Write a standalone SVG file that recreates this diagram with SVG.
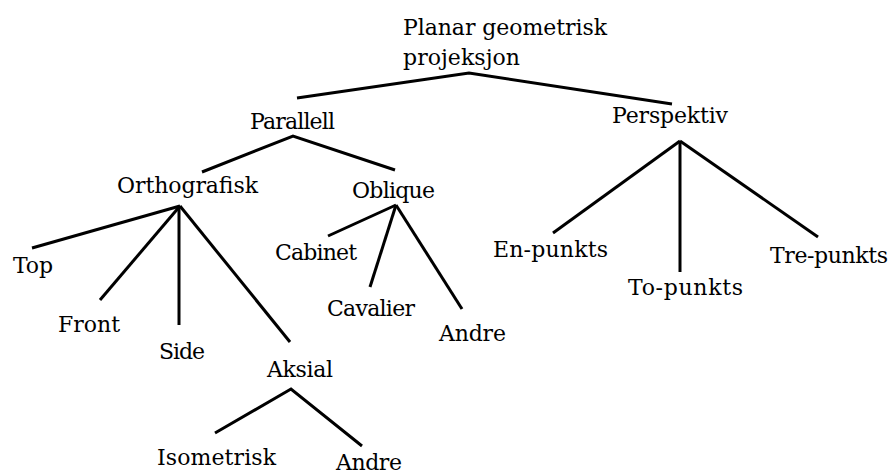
<svg xmlns="http://www.w3.org/2000/svg" width="895" height="474" viewBox="0 0 895 474">
  <style>
    .lbl { font-family: "DejaVu Serif", "Liberation Serif", serif; font-size: 22px; fill: #000; }
    .edge { stroke: #000; stroke-width: 3; stroke-linecap: butt; stroke-linejoin: miter; fill: none; }
  </style>
  <rect width="895" height="474" fill="#fff"/>

  <!-- tree branches -->
  <g id="connectors">
    <polyline class="edge" points="297,98 469,73 672,104"/>
    <polyline class="edge" points="202,172 293,136 395,170"/>
    <line class="edge" x1="180" y1="206" x2="32" y2="248"/>
    <line class="edge" x1="180" y1="206" x2="100" y2="300"/>
    <line class="edge" x1="179" y1="206" x2="179" y2="325"/>
    <line class="edge" x1="180" y1="206" x2="290" y2="342"/>
    <line class="edge" x1="396" y1="205" x2="328" y2="236"/>
    <line class="edge" x1="396" y1="205" x2="370" y2="287"/>
    <line class="edge" x1="396" y1="205" x2="462" y2="309"/>
    <polyline class="edge" points="215,433 291,389 362,446"/>
    <line class="edge" x1="680" y1="141" x2="553" y2="233"/>
    <line class="edge" x1="680" y1="141" x2="680" y2="272"/>
    <line class="edge" x1="680" y1="141" x2="818" y2="237"/>
  </g>

  <g id="root">
    <text class="lbl" x="403" y="35" textLength="204" lengthAdjust="spacing">Planar geometrisk</text>
    <text class="lbl" x="403" y="65" textLength="117" lengthAdjust="spacing">projeksjon</text>
  </g>
  <g id="parallell"><text class="lbl" x="250" y="129" textLength="85" lengthAdjust="spacing">Parallell</text></g>
  <g id="perspektiv"><text class="lbl" x="612" y="123" textLength="116" lengthAdjust="spacing">Perspektiv</text></g>
  <g id="orthografisk"><text class="lbl" x="117" y="193" textLength="141" lengthAdjust="spacing">Orthografisk</text></g>
  <g id="oblique"><text class="lbl" x="352" y="198" textLength="83" lengthAdjust="spacing">Oblique</text></g>
  <g id="top"><text class="lbl" x="13" y="273" textLength="40" lengthAdjust="spacing">Top</text></g>
  <g id="front"><text class="lbl" x="58" y="332" textLength="62" lengthAdjust="spacing">Front</text></g>
  <g id="side"><text class="lbl" x="159" y="359" textLength="46" lengthAdjust="spacing">Side</text></g>
  <g id="aksial"><text class="lbl" x="267" y="377" textLength="66" lengthAdjust="spacing">Aksial</text></g>
  <g id="isometrisk"><text class="lbl" x="157" y="465" textLength="119" lengthAdjust="spacing">Isometrisk</text></g>
  <g id="aksial-andre"><text class="lbl" x="336" y="470" textLength="66" lengthAdjust="spacing">Andre</text></g>
  <g id="cabinet"><text class="lbl" x="275" y="260" textLength="82" lengthAdjust="spacing">Cabinet</text></g>
  <g id="cavalier"><text class="lbl" x="327" y="316" textLength="88" lengthAdjust="spacing">Cavalier</text></g>
  <g id="oblique-andre"><text class="lbl" x="439" y="341" textLength="67" lengthAdjust="spacing">Andre</text></g>
  <g id="en-punkts"><text class="lbl" x="493" y="257" textLength="115" lengthAdjust="spacing">En-punkts</text></g>
  <g id="to-punkts"><text class="lbl" x="628" y="295" textLength="115" lengthAdjust="spacing">To-punkts</text></g>
  <g id="tre-punkts"><text class="lbl" x="770" y="263" textLength="118" lengthAdjust="spacing">Tre-punkts</text></g>
</svg>
